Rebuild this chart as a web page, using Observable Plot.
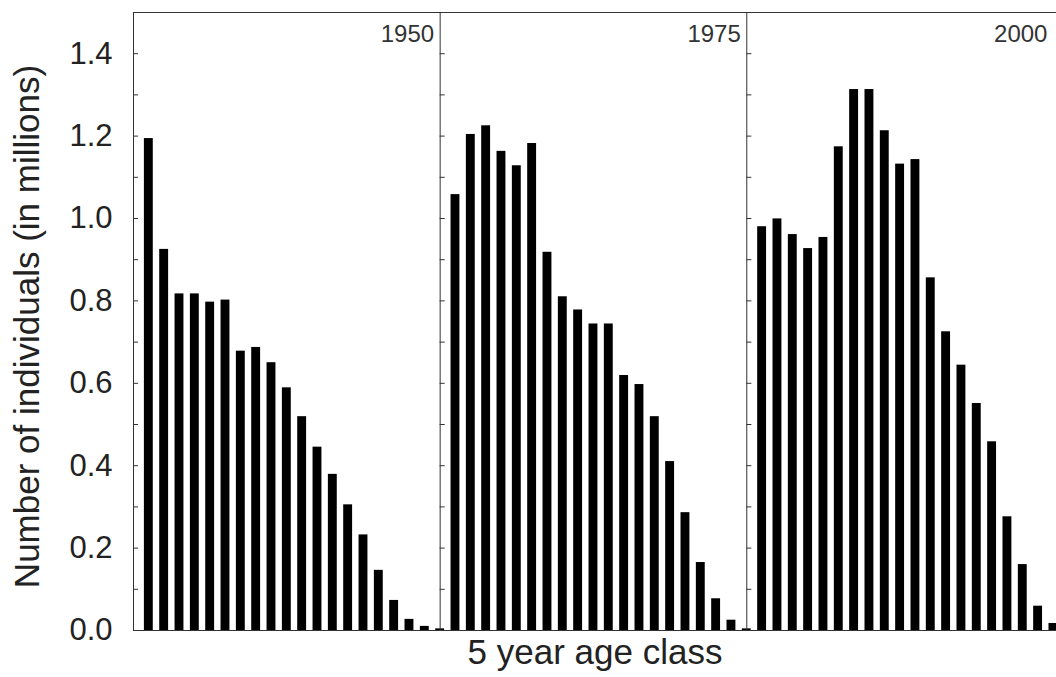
<!DOCTYPE html>
<html>
<head>
<meta charset="utf-8">
<script src="https://cdn.jsdelivr.net/npm/d3@7"></script>
<script src="https://cdn.jsdelivr.net/npm/@observablehq/plot@0.6"></script>
<style>
  body { margin: 0; background: #fff; }
  #chart svg { display: block; }
</style>
</head>
<body>
<div id="chart"></div>
<script>
// ---- data ----
const ageClasses = ["0-4","5-9","10-14","15-19","20-24","25-29","30-34","35-39","40-44","45-49",
                    "50-54","55-59","60-64","65-69","70-74","75-79","80-84","85-89","90-94","95+"];
const years = ["1950", "1975", "2000"];
const values1950 = [1.194, 0.925, 0.817, 0.817, 0.797, 0.802, 0.678, 0.687, 0.650, 0.589,
                    0.519, 0.445, 0.379, 0.305, 0.232, 0.146, 0.073, 0.027, 0.010, 0.004];
const values1975 = [1.058, 1.204, 1.225, 1.163, 1.128, 1.182, 0.918, 0.810, 0.778, 0.744,
                    0.744, 0.619, 0.597, 0.519, 0.410, 0.286, 0.165, 0.077, 0.025, 0.004];
const values2000 = [0.980, 0.999, 0.961, 0.927, 0.954, 1.174, 1.313, 1.313, 1.213, 1.132,
                    1.143, 0.856, 0.725, 0.644, 0.551, 0.458, 0.276, 0.160, 0.059, 0.017];
const yTickLabels = [0, 0.2, 0.4, 0.6, 0.8, 1.0, 1.2, 1.4];
const yMinorTicks = [0.1, 0.2, 0.3, 0.4, 0.5, 0.6, 0.7, 0.8, 0.9, 1.0, 1.1, 1.2, 1.3, 1.4];

// ---- build table ----
const series = [values1950, values1975, values2000];
const nAges = ageClasses.length;
const table = [];
series.forEach((vals, p) => {
  vals.forEach((v, i) => table.push({year: years[p], age: ageClasses[i], pos: p * nAges + i, value: v}));
});
const xMin = -1, xMax = 59.2, yMax = 1.5;
const panelLeft = [xMin, nAges - 1, 2 * nAges - 1];         // left edge of each panel
const panelRight = [nAges - 1, 2 * nAges - 1, 3 * nAges - 1]; // right edge of each panel
const halfBar = 0.29;
const tickLen = 0.33;
const tickRows = [];
panelLeft.forEach(x => yMinorTicks.forEach(y => tickRows.push({x, y})));

const font = "'Liberation Sans', Arial, Helvetica, sans-serif";
const ink = "#222";

const chart = Plot.plot({
  width: 1056,
  height: 677,
  marginLeft: 133,
  marginRight: 0,
  marginTop: 12,
  marginBottom: 47,
  style: {fontFamily: font, color: ink, background: "#fff"},
  x: {domain: [xMin, xMax], axis: null},
  y: {domain: [0, yMax], axis: null},
  marks: [
    Plot.rectY(table, {x1: d => d.pos - halfBar, x2: d => d.pos + halfBar, y: "value", fill: "#000"}),
    Plot.ruleX(panelLeft, {stroke: "#333", strokeWidth: 1}),
    Plot.ruleY([0, yMax], {stroke: "#333", strokeWidth: 1}),
    Plot.ruleY(tickRows, {y: "y", x1: "x", x2: d => d.x + tickLen, stroke: "#333", strokeWidth: 1}),
    Plot.axisY(yTickLabels, {tickSize: 0, tickPadding: 21, fontSize: 31, tickFormat: d3.format(".1f"), label: null, fill: ink}),
    Plot.text(years, {x: (d, i) => panelRight[i], y: yMax, text: d => d, textAnchor: "end", dx: -6, dy: 22, fontSize: 24, fill: "#333"}),
    Plot.text(["Number of individuals (in millions)"], {frameAnchor: "left", textAnchor: "middle", rotate: -90, dx: -106, dy: 5, fontSize: 35, fill: ink}),
    Plot.text(["5 year age class"], {frameAnchor: "bottom", dy: 33, fontSize: 35, fill: ink})
  ]
});
document.getElementById("chart").append(chart);
</script>
</body>
</html>
